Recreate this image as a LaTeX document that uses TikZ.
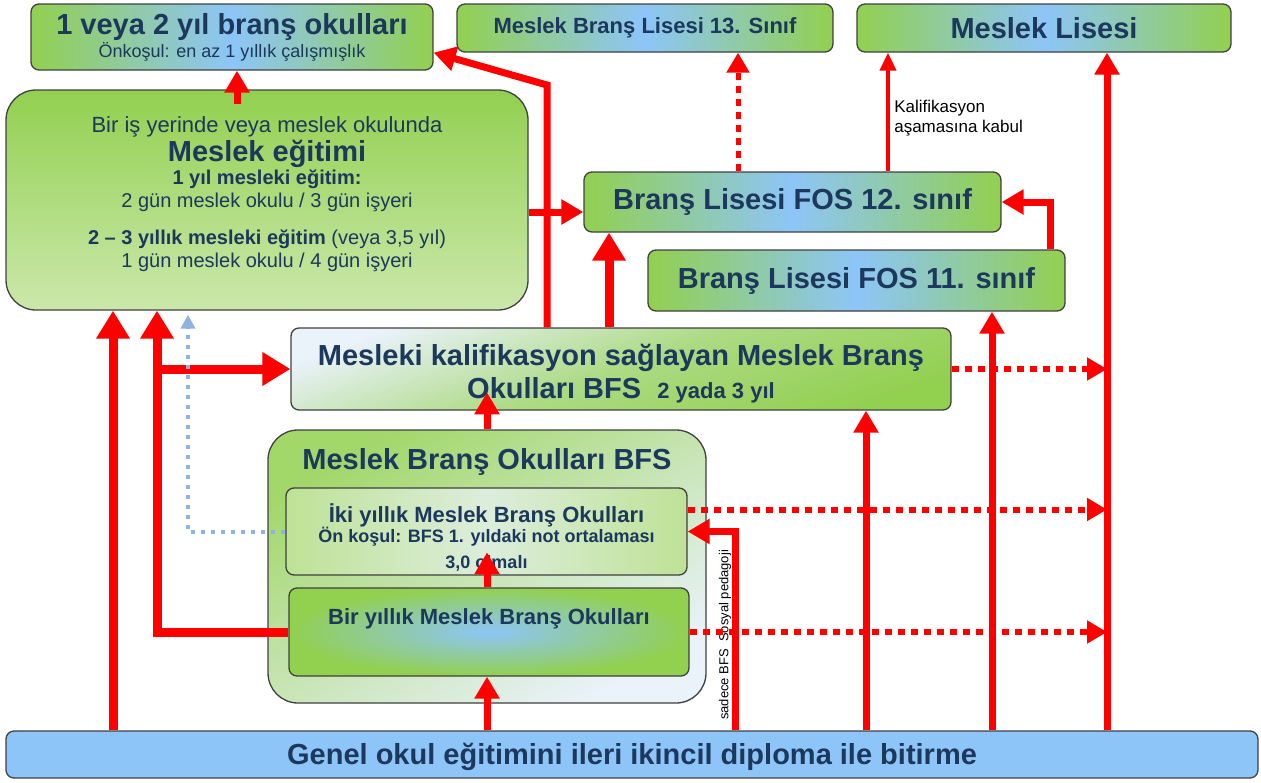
\documentclass[tikz,border=0pt]{standalone}
\usepackage{fontspec}
\setmainfont{Liberation Sans}
\usetikzlibrary{arrows.meta}
\definecolor{bgreen}{RGB}{146,208,80}
\definecolor{lgreen}{RGB}{190,226,150}
\definecolor{bblue}{RGB}{141,197,248}
\definecolor{pblue}{RGB}{234,242,250}
\definecolor{navy}{RGB}{28,56,92}
\definecolor{dotblue}{RGB}{141,179,226}
\newcommand{\fsbig}{\fontsize{29}{33}\selectfont\bfseries}
\newcommand{\fsmid}{\fontsize{22}{26}\selectfont}
\newcommand{\fssmall}{\fontsize{18}{22}\selectfont}
\tikzset{x=1pt, y=-1pt,
    box/.style={draw=black!75, line width=1.3pt, rounded corners=8pt,
        text=navy, align=center, inner sep=0pt},
    bluegreen/.style={left color=bgreen, right color=bgreen, middle color=bblue},
    redarr/.style={draw=red, line width=7pt, -{Triangle[length=22pt,width=24pt]}},
    thickarr/.style={redarr, line width=9pt, -{Triangle[length=28pt,width=32pt]}},
    thinarr/.style={redarr, line width=4pt, -{Triangle[length=18pt,width=16pt]}},
    dotarr/.style={redarr, line width=6pt, dash pattern=on 7pt off 6pt,
        -{Triangle[length=20pt,width=22pt]}},
    bluedot/.style={draw=dotblue, line width=4pt, dash pattern=on 4pt off 6pt,
        -{Triangle[length=14pt,width=14pt]}},
    }
\begin{document}
\begin{tikzpicture}
\useasboundingbox (0,0) rectangle (1261,782);
% boxes
\node[box, bluegreen, minimum width=402, minimum height=66] (bransok) at (232,37)
    {\fsbig 1 veya 2 yıl branş okulları\\[1pt]\fssmall Önkoşul: en az 1 yıllık çalışmışlık};
\node[box, bluegreen, minimum width=376, minimum height=48, font=\fsmid\bfseries] (lise13) at (645,28)
    {Meslek Branş Lisesi 13. Sınıf};
\node[box, bluegreen, minimum width=374, minimum height=48, font=\fsbig] (mlise) at (1044,28)
    {Meslek Lisesi};
\node[box, rounded corners=30pt, top color=bgreen, bottom color=lgreen!80!white,
    minimum width=522, minimum height=220, font=\fontsize{20}{23}\selectfont, text depth=15pt] (megitim) at (267,200)
    {{\fsmid Bir iş yerinde veya meslek okulunda}\\[2pt]
     {\fsbig Meslek eğitimi}\\
     \textbf{1 yıl mesleki eğitim:}\\
     2 gün meslek okulu / 3 gün işyeri\\[14pt]
     \textbf{2 – 3 yıllık mesleki eğitim} (veya 3,5 yıl)\\
     1 gün meslek okulu / 4 gün işyeri};
\node[box, bluegreen, minimum width=417, minimum height=60, font=\fsbig] (fos12) at (792.5,202)
    {Branş Lisesi FOS 12. sınıf};
\node[box, bluegreen, minimum width=417, minimum height=61, font=\fsbig] (fos11) at (856.5,280.5)
    {Branş Lisesi FOS 11. sınıf};
\node[box, top color=pblue, bottom color=bgreen, middle color=bgreen!70!pblue, shading angle=20,
    minimum width=660, minimum height=82, font=\fsbig] (bfsk) at (621,369)
    {\rule{0pt}{31pt}Mesleki kalifikasyon sağlayan Meslek Branş\\Okulları BFS\ \ {\fsmid\bfseries 2 yada 3 yıl}};
\node[box, rounded corners=30pt, top color=bgreen!85!white, bottom color=pblue, shading angle=30,
    minimum width=438, minimum height=273,
    label={[text=navy, font=\fsbig, anchor=north, yshift=-16pt]north:Meslek Branş Okulları BFS}] (bfs) at (487,566.5) {};
\node[box, left color=lgreen, right color=lgreen, middle color=pblue!70!lgreen,
    minimum width=401, minimum height=87, font=\fssmall\bfseries] (iki) at (486.5,531.5)
    {\rule{0pt}{30pt}{\fsmid\bfseries İki yıllık Meslek Branş Okulları}\\[-2pt]
     Ön koşul: BFS 1. yıldaki not ortalaması\\[4pt]
     3,0 olmalı};
\node[box, inner color=bblue, outer color=bgreen, minimum width=400, minimum height=88,
    font=\fsmid\bfseries, text depth=30pt] (bir) at (489,632)
    {Bir yıllık Meslek Branş Okulları};
\node[box, fill=bblue, minimum width=1252, minimum height=47, font=\fsbig] (genel) at (632,754.5)
    {\rule{0pt}{26pt}Genel okul eğitimini ileri ikincil diploma ile bitirme};
% columns
\coordinate (xa) at (113,0);
\coordinate (xb) at (157,0);
\coordinate (xc) at (188,0);
\coordinate (xd) at (237,0);
\coordinate (xe) at (547,0);
\coordinate (xf) at (609,0);
\coordinate (xg) at (487,0);
\coordinate (xh) at (735,0);
\coordinate (xi) at (738,0);
\coordinate (xj) at (866,0);
\coordinate (xk) at (888,0);
\coordinate (xl) at (992,0);
\coordinate (xm) at (1050,0);
\coordinate (xn) at (1107,0);
\coordinate (ya) at (0,212);
\coordinate (bend) at (547,85);
\coordinate (ikiout) at ([yshift=22pt]iki.east);
% connectors
\draw[redarr] (megitim.north -| xd) ++(0,15) -- (bransok.south -| xd);
\draw[thickarr] (genel.north -| xa) -- (megitim.south -| xa);
\draw[thickarr] (bir.west) -| (megitim.south -| xb);
\draw[thickarr] (bfsk.west -| xb) -- (bfsk.west);
\draw[bluedot, shorten >=4pt] (iki.west) -| (megitim.south -| xc);
\draw[redarr] (bfsk.north -| xe) -- (bend) -- ([yshift=18pt]bransok.south east);
\draw[redarr] (megitim.east |- ya) -- (fos12.west |- ya);
\draw[thickarr] (bfsk.north -| xf) -- (fos12.south -| xf);
\draw[dotarr, line width=5pt] (fos12.north -| xi) -- (lise13.south -| xi);
\draw[thinarr] (fos12.north -| xk) -- node[pos=0.45, anchor=west, align=left, text=black,
    font=\fontsize{17}{20}\selectfont, xshift=1pt] (kabul) {Kalifikasyon\\aşamasına kabul} (mlise.south -| xk);
\draw[redarr] (fos11.north -| xm) |- (fos12.east);
\draw[redarr] (genel.north -| xn) -- (mlise.south -| xn);
\draw[redarr] (genel.north -| xl) -- (fos11.south -| xl);
\draw[redarr] (genel.north -| xj) -- (bfsk.south -| xj);
\draw[redarr] (genel.north -| xg) -- (bir.south -| xg);
\draw[redarr] (bir.north -| xg) -- +(0,-35);
\draw[redarr] (bfs.north -| xg) -- +(0,-37);
\draw[redarr] (genel.north -| xh) |- node[pos=0.25, anchor=south, rotate=90, text=black,
    font=\fontsize{13}{15}\selectfont, xshift=-4pt, yshift=-3pt] (sadece) {sadece BFS\ \ Sosyal pedagoji} (iki.east);
\draw[dotarr] (bfsk.east) -- (bfsk.east -| xn);
\draw[dotarr] (ikiout) -- (ikiout -| xn);
\draw[dotarr] (bir.east) -- (bir.east -| xn);
\end{tikzpicture}
\end{document}
